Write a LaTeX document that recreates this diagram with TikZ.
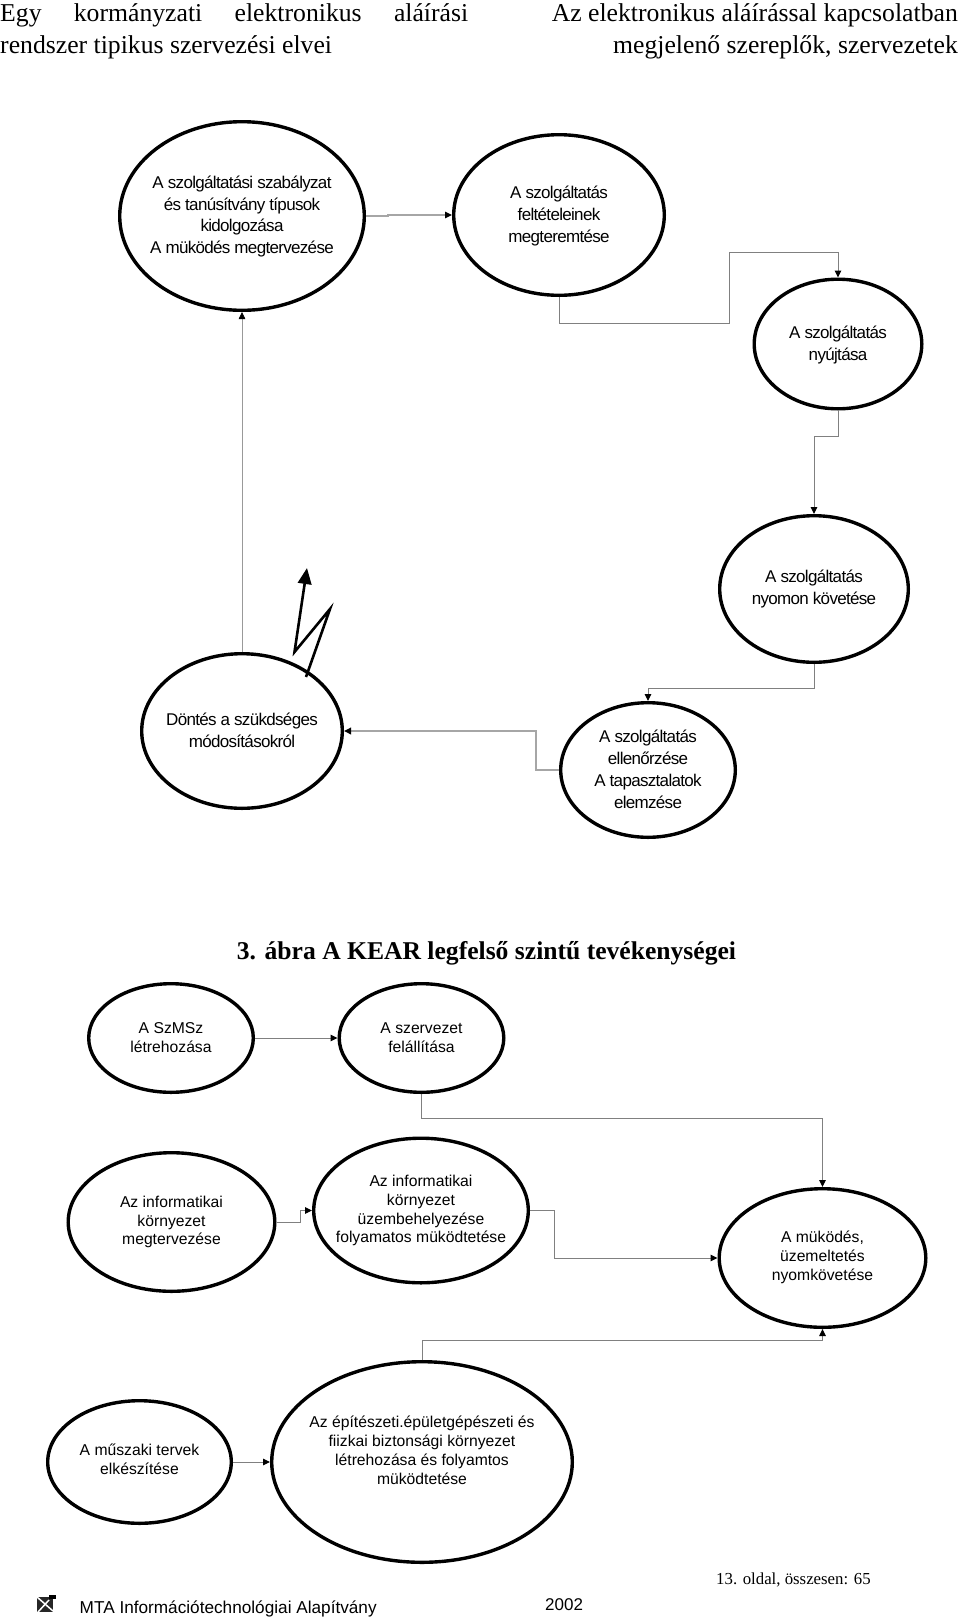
\documentclass[tikz,border=0pt]{standalone}
\usepackage{fontspec}
\setmainfont{Liberation Serif}
\newfontfamily\arl{Liberation Sans}
\newfontfamily\arlt[LetterSpace=-4]{Liberation Sans}
\usetikzlibrary{shapes.geometric,arrows.meta}
\tikzset{
 x=1pt,y=-1pt,
 ell/.style 2 args={draw=black,line width=3.4pt,ellipse,inner sep=0pt,outer sep=1.7pt,minimum width=#1*2pt-3.4pt,minimum height=#2*2pt-3.4pt},
 toptext/.style={align=center,inner sep=0pt,font=\arlt\fontsize{17}{21.9}\selectfont},
 lowtext/.style={align=center,inner sep=0pt,font=\arl\fontsize{15.7}{18.9}\selectfont},
 head/.style={inner sep=0pt,anchor=base west,font=\fontsize{25.7}{25.7}\selectfont},
 headr/.style={inner sep=0pt,anchor=base east,font=\fontsize{25.7}{25.7}\selectfont},
 conn/.style={draw=black!50,line width=1pt,rounded corners=0pt,-{Triangle[length=7pt,width=6.5pt,color=black,fill=black]}},
 connw/.style={conn,draw=black!35,line width=1.8pt},
}
\begin{document}
\begin{tikzpicture}
\useasboundingbox (0,0) rectangle (960,1619);
% headers
\node[head] (h1) at (0,21.5) {\makebox[468pt][s]{Egy\hfill kormányzati\hfill elektronikus\hfill aláírási}};
\node[head] (h2) at (0,53.5) {rendszer tipikus szervezési elvei};
\node[headr] (h3) at (958,21.5) {Az elektronikus aláírással kapcsolatban};
\node[headr] (h4) at (958,53.5) {megjelenő szereplők, szervezetek};
% upper ellipses
\node[ell={124}{96}] (c1) at (242,216) {};
\node[ell={107}{82}] (c2) at (559,215) {};
\node[ell={85.5}{66.5}] (c3) at (838,344) {};
\node[ell={96}{75}] (c4) at (814,589) {};
\node[ell={102}{79}] (c5) at (242,731) {};
\node[ell={89}{69}] (c6) at (648,770) {};
\node[toptext] (t1) at (242,216.5) {A szolgáltatási szabályzat\\és tanúsítvány típusok\\kidolgozása\\A müködés megtervezése};
\node[toptext] (t2) at (559,216) {A szolgáltatás\\feltételeinek\\megteremtése};
\node[toptext] (t3) at (838,345) {A szolgáltatás\\nyújtása};
\node[toptext] (t4) at (814,589) {A szolgáltatás\\nyomon követése};
\node[toptext] (t5) at (242,730) {Döntés a szükdséges\\módosításokról};
\node[toptext] (t6) at (648,769.5) {A szolgáltatás\\ellenőrzése\\A tapasztalatok\\elemzése};
% upper connectors
\draw[connw,line width=1.4pt] (c1.east) -- ++(22,0) |- (c2.west);
\draw[conn] (c2.south) |- (729,323.5) |- (838,252) -- (c3.north);
\draw[conn] (c3.south) |- (814,436.5) -- (c4.north);
\draw[conn] (c4.south) |- (648,688) -- (c6.north);
\draw[connw] (c6.west) -- (536,770) |- (c5.east);
\draw[conn,draw=black!40,line width=.8pt] (c5.north) -- (c1.south);
% lightning
\coordinate (z0) at (306,677);
\coordinate (z1) at (330,609);
\coordinate (z2) at (294.5,652);
\coordinate (z3) at (307,568);
\draw[line width=2.6pt,line join=miter,-{Triangle[length=16pt,width=13.5pt]}] (z0) -- (z1) -- (z2) -- (z3);
% caption
\node[inner sep=0pt,font=\bfseries\fontsize{25.6}{26}\selectfont] (cap) at (486.5,953) {3. ábra A KEAR legfelső szintű tevékenységei};
% lower ellipses
\node[ell={84}{56}] (c7) at (171,1038) {};
\node[ell={84}{56}] (c8) at (421.5,1038) {};
\node[ell={105}{71}] (c9) at (171.5,1222) {};
\node[ell={109}{74}] (c10) at (421,1210.5) {};
\node[ell={105}{71}] (c11) at (822.5,1258) {};
\node[ell={93.5}{63}] (c12) at (139.5,1462) {};
\node[ell={152}{102}] (c13) at (422,1462) {};
\node[lowtext] (t7) at (171,1038) {A SzMSz\\létrehozása};
\node[lowtext] (t8) at (421.5,1038) {A szervezet\\felállítása};
\node[lowtext] (t9) at (171.5,1222) {Az informatikai\\környezet\\megtervezése};
\node[lowtext] (t10) at (421,1210.5) {Az informatikai\\környezet\\üzembehelyezése\\folyamatos müködtetése};
\node[lowtext] (t11) at (822.5,1257.5) {A müködés,\\üzemeltetés\\nyomkövetése};
\node[lowtext] (t12) at (139.5,1459) {A műszaki tervek\\elkészítése};
\node[lowtext] (t13) at (422,1450.5) {Az építészeti.épületgépészeti és\\fiizkai biztonsági környezet\\létrehozása és folyamtos\\müködtetése};
% lower connectors
\draw[conn] (c7.east) -- (c8.west);
\draw[conn] (c8.south) |- (822.5,1118) -- (c11.north);
\draw[conn] (c9.east) -- (300,1222) |- (c10.west);
\draw[conn] (c10.east) -- (554,1210.5) |- (c11.west);
\draw[conn] (c13.north) |- (822.5,1340) -- (c11.south);
\draw[conn] (c12.east) -- (c13.west);
% footer
\node[inner sep=0pt,anchor=base west,font=\fontsize{16.8}{17}\selectfont] (f1) at (716,1584.5) {13. oldal, összesen: 65};
\node[inner sep=0pt,anchor=base west,font=\arl\fontsize{17.2}{17}\selectfont] (f2) at (79.5,1613) {MTA Információtechnológiai Alapítvány};
\node[inner sep=0pt,anchor=base west,font=\arl\fontsize{17}{17}\selectfont] (f3) at (545,1610) {2002};
% logo
\fill[black!85] (37,1597) rectangle (53,1612);
\fill[black] (49,1595) rectangle (56,1598.5);
\draw[white,line width=1.5pt] (37,1597) -- (53,1611) (38,1612) -- (49,1600);
\end{tikzpicture}
\end{document}
